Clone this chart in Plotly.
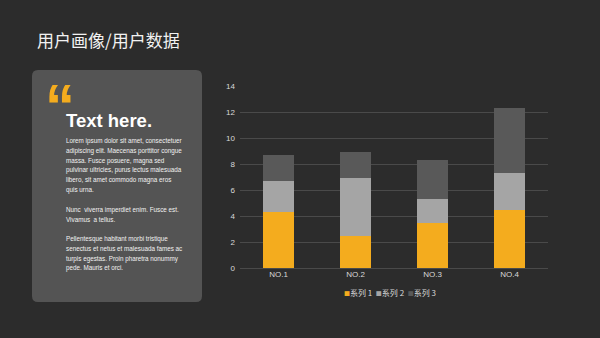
import plotly.graph_objects as go

categories = ["NO.1", "NO.2", "NO.3", "NO.4"]
series_names = ["系列 1", "系列 2", "系列 3"]
series1 = [4.3, 2.5, 3.5, 4.5]
series2 = [2.4, 4.4, 1.8, 2.8]
series3 = [2.0, 2.0, 3.0, 5.0]
y_ticks = [0, 2, 4, 6, 8, 10, 12, 14]

body_lines = [
    "Lorem ipsum dolor sit amet, consectetuer",
    "adipiscing elit. Maecenas porttitor congue",
    "massa. Fusce posuere, magna sed",
    "pulvinar ultricies, purus lectus malesuada",
    "libero, sit amet commodo magna eros",
    "quis urna.",
    "",
    "Nunc  viverra imperdiet enim. Fusce est.",
    "Vivamus  a tellus.",
    "",
    "Pellentesque habitant morbi tristique",
    "senectus et netus et malesuada fames ac",
    "turpis egestas. Proin pharetra nonummy",
    "pede. Mauris et orci.",
]

colors = ["#F4AC1E", "#A5A5A5", "#595959"]
BG = "#2C2C2C"
CARD = "#545454"

fig = go.Figure()
for name, vals, col in zip(series_names, [series1, series2, series3], colors):
    fig.add_trace(go.Bar(x=categories, y=vals, name=name, marker=dict(color=col, line=dict(width=0)),
                         showlegend=False))

W, H = 600, 338
ml, mr, mt, mb = 240, 52, 86, 70
pw, ph = W - ml - mr, H - mt - mb
def px(x): return (x - ml) / pw
def py(y): return (H - mb - y) / ph

fig.update_layout(
    width=W, height=H,
    paper_bgcolor=BG, plot_bgcolor=BG,
    barmode="stack", bargap=0.6,
    margin=dict(l=ml, r=mr, t=mt, b=mb),
    font=dict(family="Liberation Sans, Arial", color="#D9D9D9", size=8),
    xaxis=dict(showgrid=False, showline=False, zeroline=False, ticks="", tickfont=dict(size=8, color="#D9D9D9"),
               range=[-0.5, 3.5]),
    yaxis=dict(range=[0, 14], tickvals=y_ticks, showgrid=True, gridcolor="#4A4A4A", gridwidth=1,
               zeroline=True, zerolinecolor="#4A4A4A", zerolinewidth=1, showline=False, ticks="",
               tickfont=dict(size=8, color="#D9D9D9"), ticklabelstandoff=4),
)

# card background
x0, x1, y0, y1, r = 32, 202, 70, 302, 6
path = (f"M {px(x0+r)},{py(y0)} L {px(x1-r)},{py(y0)} Q {px(x1)},{py(y0)} {px(x1)},{py(y0+r)} "
        f"L {px(x1)},{py(y1-r)} Q {px(x1)},{py(y1)} {px(x1-r)},{py(y1)} "
        f"L {px(x0+r)},{py(y1)} Q {px(x0)},{py(y1)} {px(x0)},{py(y1-r)} "
        f"L {px(x0)},{py(y0+r)} Q {px(x0)},{py(y0)} {px(x0+r)},{py(y0)} Z")
fig.add_shape(type="path", path=path, xref="paper", yref="paper", fillcolor=CARD, line=dict(width=0), layer="below")

# title
fig.add_annotation(text="用户画像/用户数据", x=px(35), y=py(39), xref="paper", yref="paper",
                   xanchor="left", yanchor="middle", showarrow=False,
                   font=dict(family="Noto Sans CJK SC", size=17, color="#F2F2F2"))
# quote mark (box height limited so it does not cover the heading)
fig.add_annotation(text="<b>“</b>", x=px(43), y=py(70), xref="paper", yref="paper",
                   xanchor="left", yanchor="top", showarrow=False, height=34, valign="top",
                   font=dict(family="Liberation Sans", size=60, color="#F4AC1E"))
fig.add_annotation(text="<b>Text here.</b>", x=px(64), y=py(120), xref="paper", yref="paper",
                   xanchor="left", yanchor="middle", showarrow=False,
                   font=dict(family="Liberation Sans", size=18.5, color="#FFFFFF"))
for i, line in enumerate(body_lines):
    if not line:
        continue
    fig.add_annotation(text=line, x=px(64), y=py(141 + 9.8 * i), xref="paper", yref="paper",
                       xanchor="left", yanchor="middle", align="left", showarrow=False,
                       font=dict(family="Liberation Sans", size=6.3, color="#F2F2F2"))

# legend (compact, as text)
leg = "  ".join(f"<span style='color:{c};font-size:6px'>■</span>{n}" for n, c in zip(series_names, colors))
fig.add_annotation(text=leg, x=px(390), y=py(292), xref="paper", yref="paper",
                   xanchor="center", yanchor="middle", showarrow=False,
                   font=dict(family="Noto Sans CJK SC", size=8, color="#D9D9D9"))

fig.write_html("out.html")
